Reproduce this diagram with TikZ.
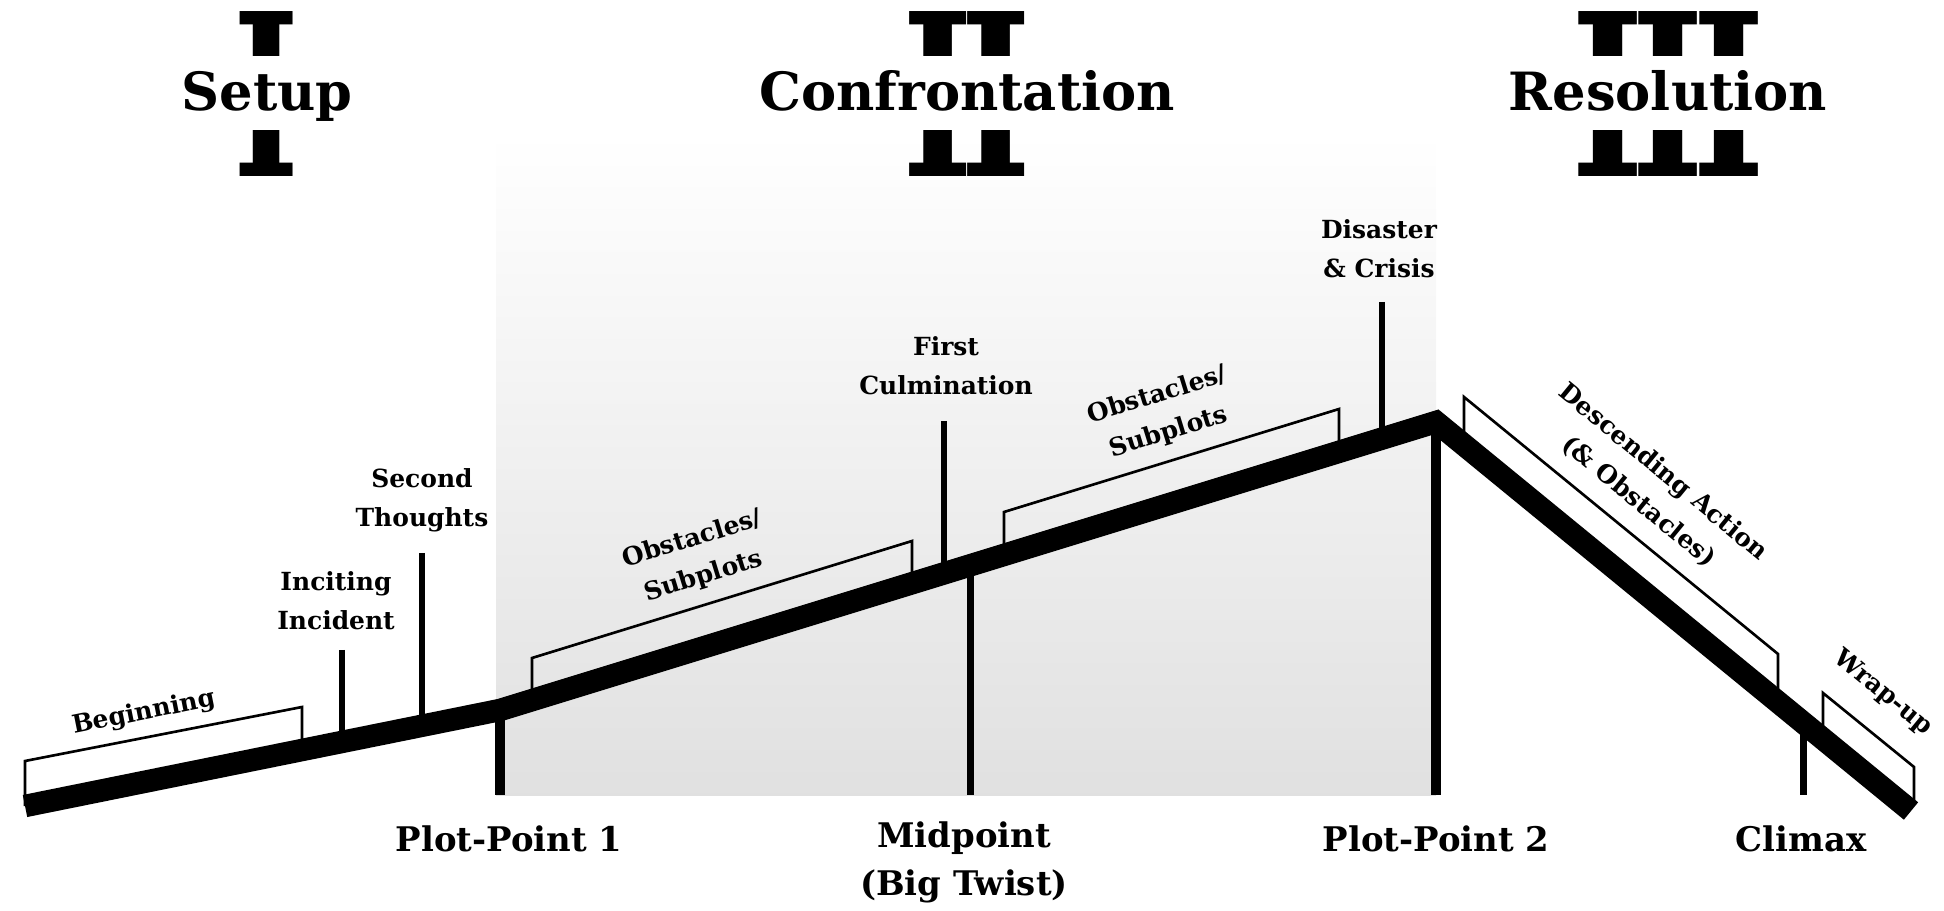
\documentclass[tikz,border=0pt]{standalone}
\usepackage{fontspec}
\usepackage{graphicx}
\setmainfont{DejaVu Serif}
\tikzset{
 nhan/.style={font=\bfseries\fontsize{14.2}{22}\selectfont,align=center,inner sep=0},
 moc/.style={font=\bfseries\fontsize{19.3}{27.2}\selectfont,align=center,inner sep=0},
 phan/.style={font=\bfseries\fontsize{30}{36}\selectfont,anchor=base,fill=white,
 inner ysep=0,inner xsep=6pt,text height=1.1cm,text depth=0.38cm},
 ngoac/.style={line width=1.5pt,line join=miter},
}
\begin{document}
\begin{tikzpicture}[x=0.02cm,y=-0.02cm]
 \useasboundingbox (0,0) rectangle (1944,911);
 \shade[top color=white,middle color=black!6,bottom color=black!12] (496,133) rectangle (1436,795);
 % ba phần
 \foreach \x/\r/\w/\t/\n in {267/I/1.32/Setup/1,967/I\kern-.08em I/2.6/Confrontation/2,1668/I\kern-.08em I\kern-.08em I/3.88/Resolution/3}{
 \path (\x,94.5) node[inner sep=0] (so\n) {\resizebox{\w cm}{3.3cm}{\bfseries\r}};
 \path (\x,111) node[phan] (ph\n) {\t};
 }
 % ngoặc trên đường
 \draw[ngoac]
 (25,806)--(25,761)--(302,707)--(302,750)
 (532,700)--(532,658)--(912,541)--(912,583)
 (1004,555)--(1004,512)--(1339,409)--(1339,452)
 (1464,445)--(1464,397)--(1778,654)--(1778,702)
 (1823,739)--(1823,693)--(1914,767)--(1914,804);
 % vạch trên
 \foreach \x/\a/\b in {342/650/742,422/553/726,944/421/573,1382/302/439}
 \draw[line width=0.13cm] (\x,\a)--(\x,\b);
 % vạch dưới
 \foreach \x/\a/\w in {500/710/0.2,970/565/0.14,1436/422/0.2,1803/718/0.14}
 \draw[line width=\w cm] (\x,\a)--(\x,795);
 \draw[line width=0.45cm,line join=miter] (25,806)--(500,710)--(1436,422)--(1911,811);
 \path
 (144,713) node[nhan,rotate=11.4] (beg) {Beginning}
 (336,601) node[nhan] (inc) {Inciting\\Incident}
 (422,500) node[nhan] (sec) {Second\\Thoughts}
 (698,558) node[nhan,rotate=17.1] (ob1) {Obstacles/\\Subplots}
 (946,366) node[nhan] (cul) {First\\Culmination}
 (1163,414) node[nhan,rotate=17.1] (ob2) {Obstacles/\\Subplots}
 (1379,249) node[nhan] (dis) {Disaster\\\& Crisis}
 (1651,487) node[nhan,rotate=-39.4] (des) {Descending Action\\(\& Obstacles)}
 (1883,693) node[nhan,rotate=-39.4] (wra) {Wrap-up}
 (509,839) node[moc] (pp1) {Plot-Point 1}
 (964,862) node[moc] (mid) {Midpoint\\(Big Twist)}
 (1436,839) node[moc] (pp2) {Plot-Point 2}
 (1801,839) node[moc] (cli) {Climax};
\end{tikzpicture}
\end{document}
